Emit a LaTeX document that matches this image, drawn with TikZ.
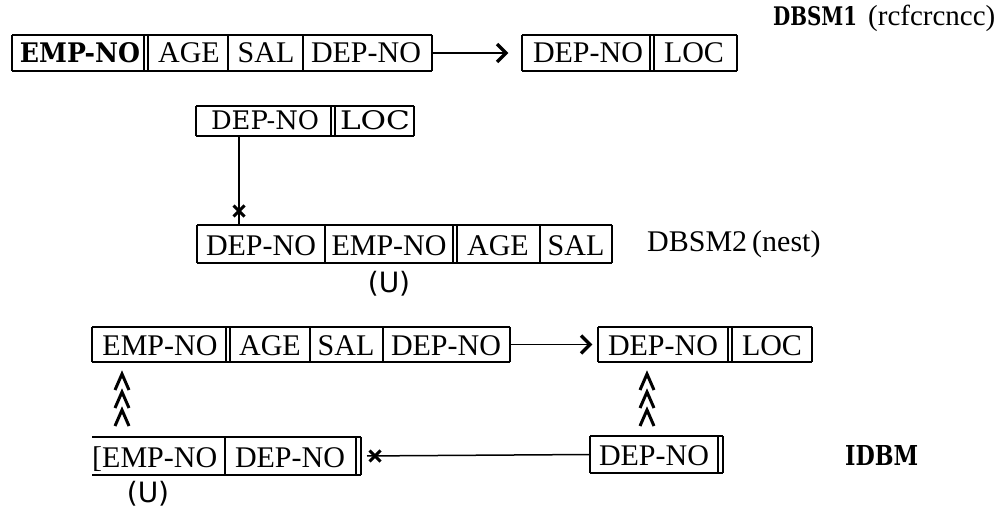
\documentclass[tikz,border=0pt]{standalone}
\usepackage{graphicx}
\usepackage{fontspec}
\setmainfont{Liberation Serif}
\newfontfamily\dvs{DejaVu Serif}
\newfontfamily\dvsans{DejaVu Sans}
\usetikzlibrary{arrows.meta,fit,calc}
\newcommand\fitt[3]{\resizebox{#1pt}{#2pt}{#3}}
\newcommand\chev[2]{\draw[chv] ({#1-7},{#2+16}) -- (#1,#2) -- ({#1+7},{#2+16});}
\newcommand\frm[1]{%
  \draw[topbot] (#1.north west) -- (#1.north east) (#1.south west) -- (#1.south east);
  \draw[side] (#1.north west) -- (#1.south west) (#1.north east) -- (#1.south east);}
\newcommand\xmark[2]{\draw[xm] ({#1-5.5},{#2-5.5}) -- ({#1+5.5},{#2+5.5}) ({#1+5.5},{#2-5.5}) -- ({#1-5.5},{#2+5.5});}
\newcommand\ahead[1]{\draw[ah] ($(#1)+(-9,-9)$) -- (#1) -- ($(#1)+(-9,9)$);}
\begin{document}
\begin{tikzpicture}[x=1pt,y=-1pt,font=\fontsize{30}{32}\selectfont,
  rec/.style={inner sep=0pt,outer sep=0pt},
  fld/.style={inner sep=0pt,anchor=base},
  lbl/.style={inner sep=0pt,anchor=base west},
  topbot/.style={line width=2.8pt},
  side/.style={line width=1.8pt},
  div/.style={line width=1.3pt},
  conn/.style={line width=1.5pt},
  ah/.style={line width=3.2pt,line join=miter},
  chv/.style={line width=3pt,line join=miter},
  xm/.style={line width=3pt},
  uu/.style={inner sep=0pt,font=\dvsans\fontsize{28}{30}\selectfont}]
\useasboundingbox (0,0) rectangle (1007,508);
% ---------- DBSM1 ----------
\node[rec,fit={(12,35) (432,71)}] (r1) {};
\frm{r1}
\draw[div] (144,35) -- (144,71) (148,35) -- (148,71) (228,35) -- (228,71) (303,35) -- (303,71);
\node[fld] (r1a) at (80,63) {\fitt{120}{20}{\dvs\bfseries EMP-NO}};
\node[fld] (r1b) at (189,63) {AGE};
\node[fld] (r1c) at (266,63) {SAL};
\node[fld] (r1d) at (366,63) {DEP-NO};
\node[rec,fit={(522,35) (737,71)}] (r2) {};
\frm{r2}
\draw[div] (650,35) -- (650,71) (654,35) -- (654,71);
\node[fld] (r2a) at (588,63) {DEP-NO};
\node[fld] (r2b) at (694,63) {LOC};
\coordinate (a1) at ($(r2.west)+(-16,0)$);
\draw[conn] (r1.east) -- (a1);
\ahead{a1}
\node[lbl] (t1) at (773,26) {\fitt{84}{19}{\dvs\bfseries DBSM1}};
\node[lbl] (t1b) at (868,26) {\fontsize{29}{30}\selectfont(rcfcrcncc)};
% ---------- DBSM2 ----------
\node[rec,fit={(196,106) (414,136)}] (r3) {};
\frm{r3}
\draw[div] (331,106) -- (331,136) (335,106) -- (335,136);
\node[fld] (r3a) at (265,130) {\fitt{108}{19}{\dvs DEP-NO}};
\node[fld] (r3b) at (375,130) {\fitt{70}{19}{\dvs LOC}};
\node[rec,fit={(197,225) (612,263)}] (r4) {};
\frm{r4}
\draw[div] (325,225) -- (325,263) (453,225) -- (453,263) (457,225) -- (457,263) (540,225) -- (540,263);
\node[fld] (r4a) at (261,255) {DEP-NO};
\node[fld] (r4b) at (389,255) {EMP-NO};
\node[fld] (r4c) at (498,255) {AGE};
\node[fld] (r4d) at (576,255) {SAL};
\node[uu] (u1) at (389,284) {(U)};
\coordinate (c1) at (239,136);
\draw[conn] (c1) -- (c1 |- r4.north);
\xmark{239}{211}
\node[lbl] (t2) at (647,251) {DBSM2\hspace{5pt}(nest)};
% ---------- IDBM ----------
\node[rec,fit={(92,327) (510,362)}] (r5) {};
\frm{r5}
\draw[div] (226,327) -- (226,362) (230,327) -- (230,362) (310,327) -- (310,362) (383,327) -- (383,362);
\node[fld] (r5a) at (160,355) {EMP-NO};
\node[fld] (r5b) at (270,355) {AGE};
\node[fld] (r5c) at (346,355) {SAL};
\node[fld] (r5d) at (446,355) {DEP-NO};
\node[rec,fit={(598,327) (812,362)}] (r6) {};
\frm{r6}
\draw[div] (728,327) -- (728,362) (732,327) -- (732,362);
\node[fld] (r6a) at (663,355) {DEP-NO};
\node[fld] (r6b) at (772,355) {LOC};
\coordinate (a2) at ($(r6.west)+(-8,0)$);
\draw[conn] (r5.east) -- (a2);
\ahead{a2}
\node[rec,fit={(92,437) (361,475)}] (r7) {};
\draw[topbot] (r7.north west) -- (r7.north east) (r7.south west) -- (r7.south east);
\draw[side] (r7.north east) -- (r7.south east);
\draw[div] (225,437) -- (225,475) (356,437) -- (356,475);
\node[lbl] (r7a) at (92,467) {[EMP-NO};
\node[fld] (r7b) at (290,467) {DEP-NO};
\node[uu] (u2) at (148,494) {(U)};
\node[rec,fit={(590,436) (723,473)}] (r8) {};
\frm{r8}
\draw[div] (718,436) -- (718,473);
\node[fld] (r8a) at (654,465) {DEP-NO};
\draw[conn,shorten >=6pt] (r8.west) -- (r7.east);
\xmark{375}{456}
\chev{122}{374}
\chev{122}{392}
\chev{122}{410}
\chev{647}{374}
\chev{647}{392}
\chev{647}{410}
\node[lbl] (t3) at (845,465) {\fitt{73}{20}{\dvs\bfseries IDBM}};
\end{tikzpicture}
\end{document}
